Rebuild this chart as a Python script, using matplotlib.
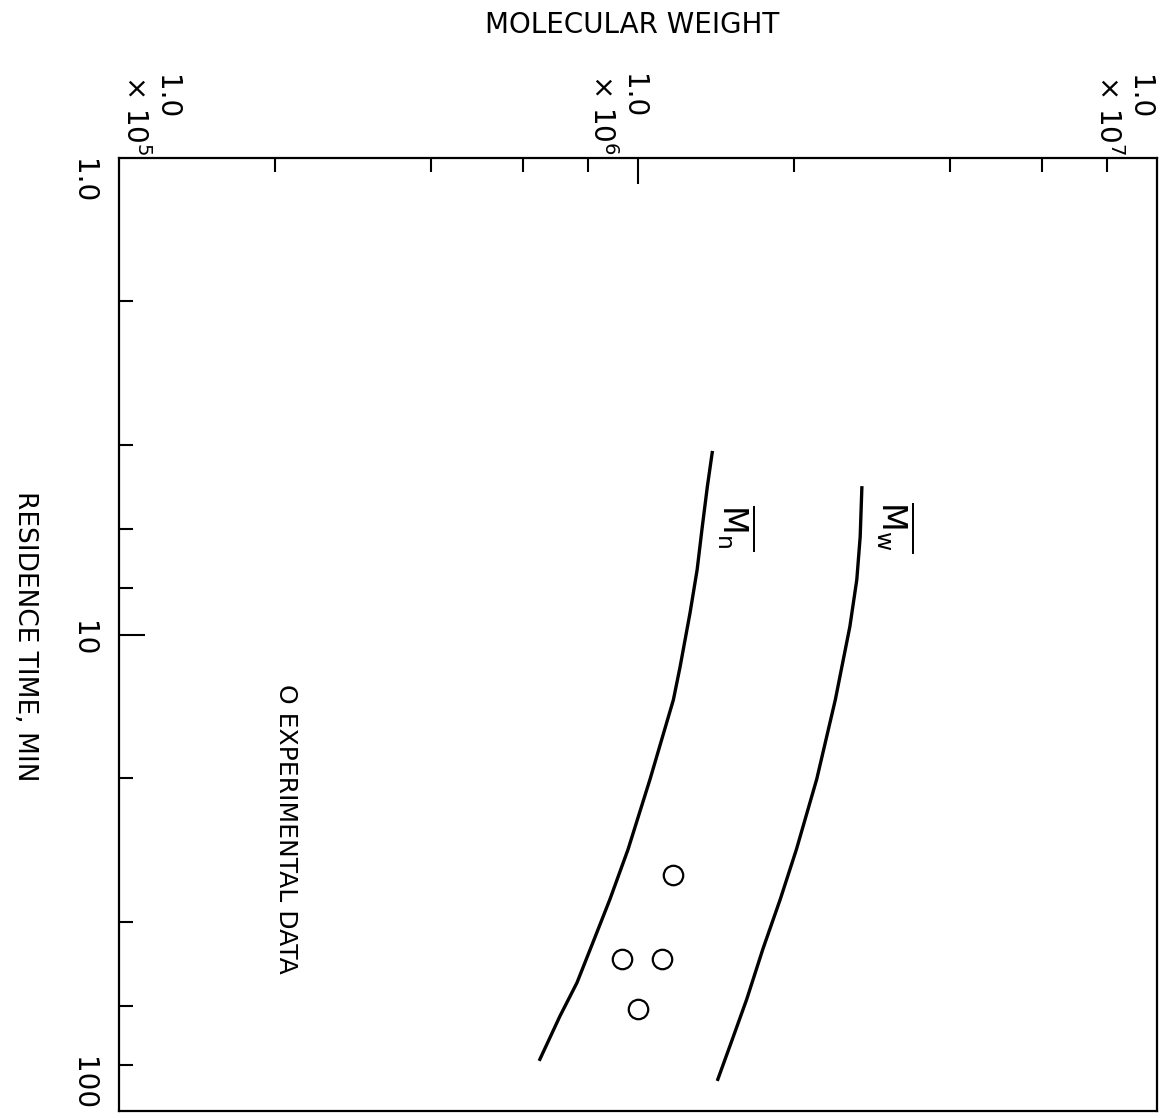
import matplotlib
matplotlib.use("Agg")
import matplotlib.pyplot as plt
from matplotlib.ticker import LogLocator, NullFormatter, FixedLocator

plt.rcParams['font.family'] = ['DejaVu Sans']
plt.rcParams['mathtext.fontset'] = 'dejavusans'

# residence time (min) vs molecular weight
mn_time = [4.15, 4.9, 5.94, 7.31, 8.99, 11.7, 13.7, 20.1, 28.2, 35.9, 44.2, 53.7, 63.2, 77.8]
mn_mw = [1.39e6, 1.36e6, 1.33e6, 1.30e6, 1.26e6, 1.205e6, 1.17e6, 1.055e6, 9.57e5, 8.83e5,
         8.19e5, 7.63e5, 7.07e5, 6.47e5]

mw_time = [4.92, 6.23, 7.67, 9.62, 11.7, 13.7, 20.1, 28.2, 35.9, 45.7, 58.2, 70.6, 85.7]
mw_mw = [2.70e6, 2.68e6, 2.64e6, 2.56e6, 2.47e6, 2.40e6, 2.21e6, 2.02e6, 1.88e6, 1.74e6,
         1.62e6, 1.52e6, 1.425e6]

exp_time = [32.0, 48.0, 48.0, 61.0]
exp_mw = [1.17e6, 9.3e5, 1.11e6, 1.0e6]

mw_ticks = [1e5, 1e6, 1e7]
mw_tick_labels = ['1.0\n× 10$^{5}$', '1.0\n× 10$^{6}$', '1.0\n× 10$^{7}$']
time_ticks = [1, 10, 100]
time_tick_labels = ['1.0', '10', '100']

fig = plt.figure(figsize=(11.67, 11.18), dpi=100)
ax = fig.add_axes([0.102, 0.006, 0.8894, 0.8527])

ax.plot(mn_mw, mn_time, color='black', lw=2.4)
ax.plot(mw_mw, mw_time, color='black', lw=2.4)
ax.plot(exp_mw, exp_time, 'o', mfc='none', mec='black', ms=14, mew=1.6)

ax.set_xscale('log')
ax.set_yscale('log')
ax.set_xlim(1e5, 1e7)
ax.set_ylim(100, 1)

for s in ax.spines.values():
    s.set_linewidth(1.6)

ax.xaxis.set_major_locator(FixedLocator([1e6]))
ax.xaxis.set_minor_locator(LogLocator(base=10, subs=[2, 4, 6, 8]))
ax.yaxis.set_major_locator(FixedLocator([10]))
ax.yaxis.set_minor_locator(LogLocator(base=10, subs=[2, 4, 6, 8]))
ax.xaxis.set_minor_formatter(NullFormatter())
ax.yaxis.set_minor_formatter(NullFormatter())
ax.tick_params(which='both', direction='in', top=True, bottom=False, left=True, right=False,
               labeltop=False, labelbottom=False, labelleft=False, width=1.5)
ax.tick_params(which='major', length=19)
ax.tick_params(which='minor', length=10)

# tick labels, rotated like the rest of the sheet
x_offsets = [31, -21, -34]
for v, lab, dx in zip(mw_ticks, mw_tick_labels, x_offsets):
    ax.annotate(lab, xy=(v, 1), xycoords=('data', 'axes fraction'), xytext=(dx, 3),
                textcoords='offset pixels', rotation=270, ha='center', va='bottom',
                fontsize=20, multialignment='left', linespacing=1.1)

y_offsets = [-23, -4, 28]
for v, lab, dy in zip(time_ticks, time_tick_labels, y_offsets):
    ax.annotate(lab, xy=(0, v), xycoords=('axes fraction', 'data'), xytext=(-36, dy),
                textcoords='offset pixels', rotation=270, ha='center', va='center',
                fontsize=20)

ax.text(3.13e6, 5.94, r'$\overline{\mathrm{M}_\mathrm{w}}$', rotation=270, ha='center',
        va='center', fontsize=24)
ax.text(1.55e6, 5.96, r'$\overline{\mathrm{M}_\mathrm{n}}$', rotation=270, ha='center',
        va='center', fontsize=24)
ax.text(2.1e5, 25.6, 'O EXPERIMENTAL DATA', rotation=270, ha='center', va='center',
        fontsize=18)

fig.text(632 / 1167, 1 - 25 / 1118, 'MOLECULAR WEIGHT', ha='center', va='center', fontsize=20)
fig.text(25 / 1167, 1 - 636 / 1118, 'RESIDENCE TIME, MIN', rotation=270, ha='center',
         va='center', fontsize=19)

fig.savefig('out.png', dpi=100)
